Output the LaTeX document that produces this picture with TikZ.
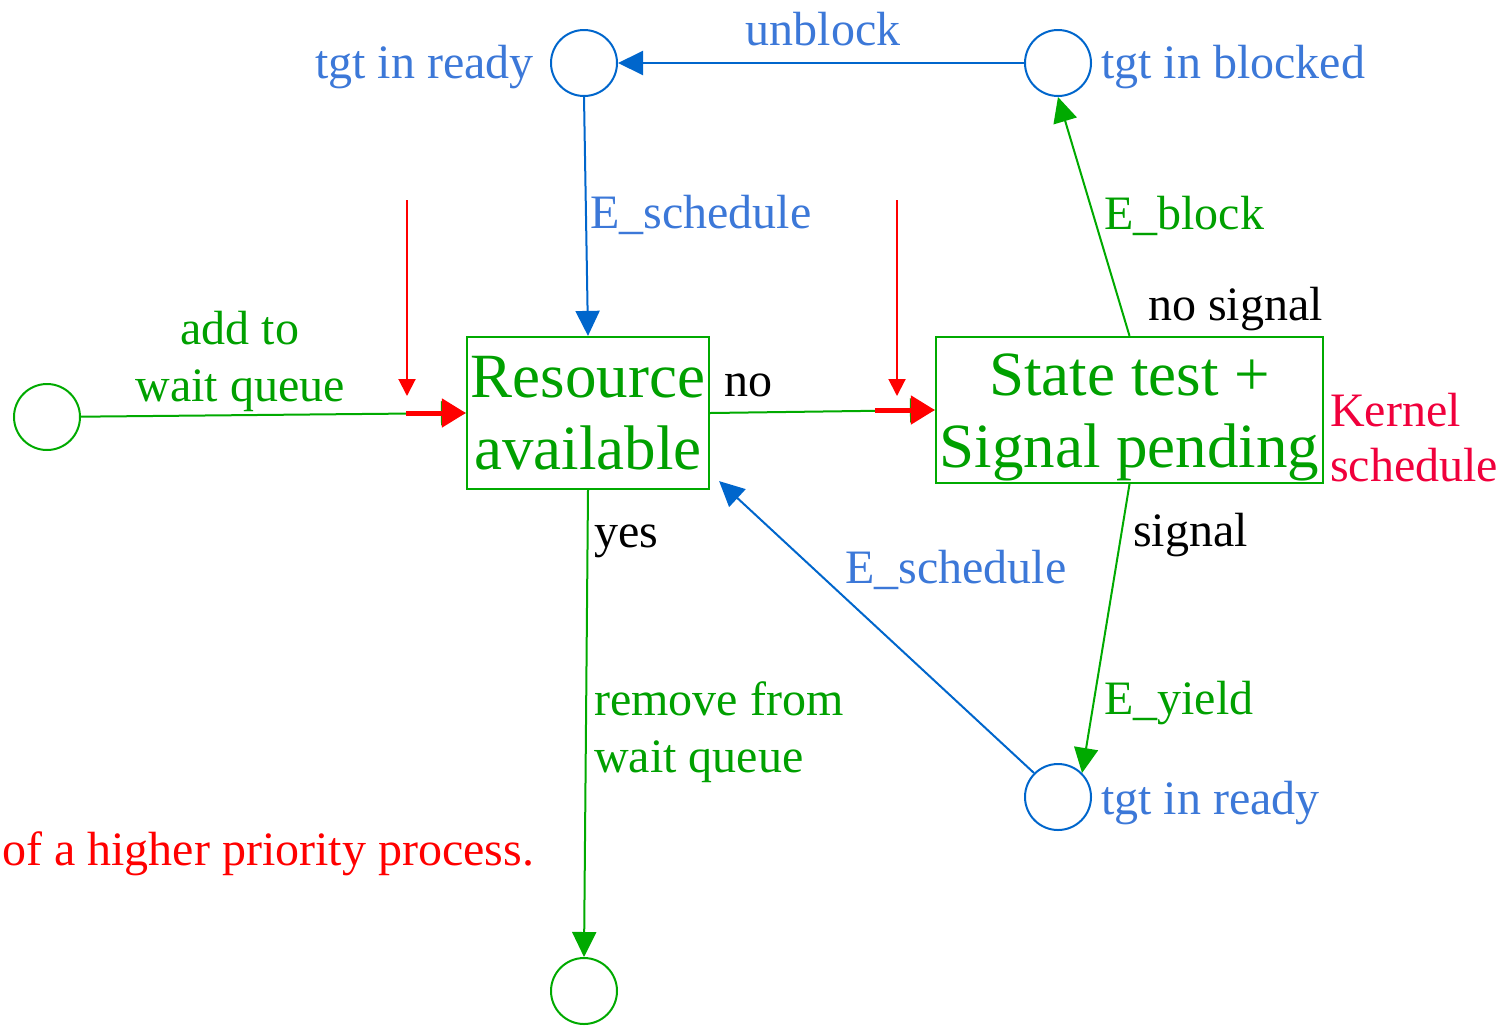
\documentclass[tikz,border=0pt]{standalone}
\usepackage{fontspec}
\setmainfont{Liberation Serif}
\usetikzlibrary{arrows.meta,calc}

\definecolor{lnblue}{HTML}{0066CC}
\definecolor{txblue}{HTML}{3C78D8}
\definecolor{lngreen}{HTML}{00AA00}
\definecolor{txgreen}{HTML}{00A000}
\definecolor{kred}{HTML}{F0003C}

\tikzset{
  state/.style={circle, draw, line width=2pt, minimum size=66pt, inner sep=0pt},
  box/.style={draw=lngreen, line width=2.2pt, text=txgreen, inner sep=1pt, align=center,
    font=\fontsize{63}{72}\selectfont},
  lbl/.style={inner sep=0pt, font=\fontsize{48}{57}\selectfont},
  tip/.style={-{Triangle[length=25pt,width=24pt]}},
  gline/.style={draw=lngreen, line width=2pt, tip, lngreen},
  bline/.style={draw=lnblue, line width=2pt, tip, lnblue},
  redthick/.style={draw=red, line width=5pt, -{Triangle[length=24pt,width=28pt]}, red},
  redthin/.style={draw=red, line width=2pt, -{Triangle[length=17pt,width=17pt]}, red},
}

\begin{document}
\begin{tikzpicture}[x=1pt,y=-1pt]
\useasboundingbox (0,0) rectangle (1503,1026);

% states
\node[state, draw=lngreen] (s0) at (47,417) {};
\node[state, draw=lnblue] (rdy) at (584,63) {};
\node[state, draw=lnblue] (blk) at (1058,63) {};
\node[state, draw=lnblue] (rdy2) at (1058,797) {};
\node[state, draw=lngreen] (fin) at (584,991) {};

% decision boxes (the strut lowers the two lines inside the right box)
\node[box, minimum width=242pt, minimum height=152pt] (res) at (588,413) {Resource\\available};
\node[box, minimum width=387pt, minimum height=146pt] (st) at (1129.5,410)
  {\rule{0pt}{56pt}State test +\\Signal pending};

% kernel schedule markers
\coordinate (k1a) at (407,200);
\coordinate (k1b) at (407,396);
\coordinate (k2a) at (897,200);
\coordinate (k2b) at (897,396);
\coordinate (res-in) at ($(res.west)+(-60,0)$);
\coordinate (st-in) at ($(st.west)+(-60,0)$);
\coordinate (res-corner) at ($(res.south east)+(9,-9)$);

% connectors
\draw[gline] (s0) -- (res.west);
\draw[gline] (res.east) -- (st.west);
\draw[gline] (res.south) -- (fin.north);
\draw[gline] (st.north) -- (blk.south);
\draw[gline] (st.south) -- (rdy2.north east);
\draw[bline] (blk) -- (rdy);
\draw[bline] (rdy.south) -- (res.north);
\draw[bline] (rdy2.north west) -- (res-corner);

\draw[redthick] (res-in) -- (res.west);
\draw[redthick] (st-in) -- (st.west);
\draw[redthin] (k1a) -- (k1b);
\draw[redthin] (k2a) -- (k2b);

% labels (multi-line labels are anchored on their last baseline)
\node[lbl, text=txblue, anchor=base east] (l-rdy) at (534,78) {tgt in ready};
\node[lbl, text=txblue, anchor=base west] (l-blk) at (1101,78) {tgt in blocked};
\node[lbl, text=txblue, anchor=base west] (l-rdy2) at (1101,814) {tgt in ready};
\node[lbl, text=txblue, anchor=base] (l-unb) at (823,45) {unblock};
\node[lbl, text=txblue, anchor=base west] (l-es1) at (590,228) {E\_schedule};
\node[lbl, text=txblue, anchor=base west] (l-es2) at (845,583) {E\_schedule};
\node[lbl, text=txgreen, anchor=base west] (l-eb) at (1104,229) {E\_block};
\node[lbl, text=txgreen, anchor=base west] (l-ey) at (1104,714) {E\_yield};
\node[lbl, anchor=base west] (l-ns) at (1148,320) {no signal};
\node[lbl, anchor=base west] (l-sig) at (1133,546) {signal};
\node[lbl, anchor=base west] (l-no) at (724,396) {no};
\node[lbl, anchor=base west] (l-yes) at (594,547) {yes};
\node[lbl, text=txgreen, align=center, anchor=base] (l-add) at (240,401) {add to\\wait queue};
\node[lbl, text=txgreen, align=left, anchor=base west] (l-rem) at (594,772) {remove from\\wait queue};
\node[lbl, text=kred, align=left, anchor=base west, font=\fontsize{48}{55}\selectfont] (l-ks) at (1330,481) {Kernel\\schedule};
\node[lbl, text=red, anchor=base west] (l-hp) at (2,865) {of a higher priority process.};
\end{tikzpicture}
\end{document}
